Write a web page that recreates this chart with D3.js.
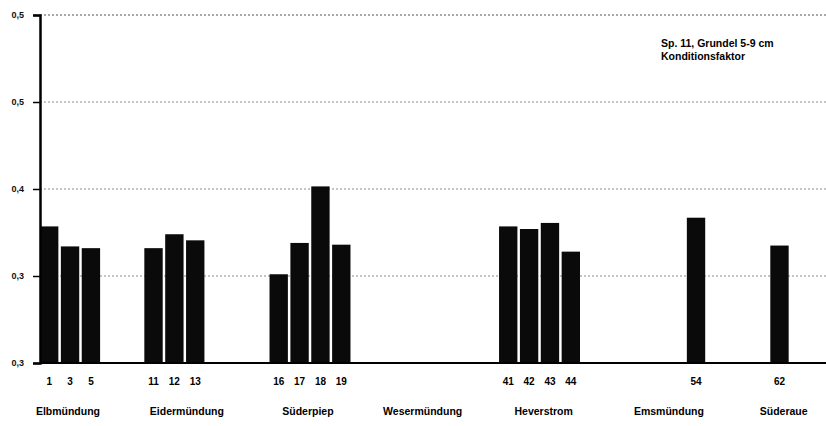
<!DOCTYPE html>
<html lang="en">
<head>
<meta charset="UTF-8">
<title>Konditionsfaktor</title>
<script src="https://d3js.org/d3.v7.min.js"></script>
<style>
  body { margin: 0; background: #fff; }
  text { font-family: "Liberation Sans", Arial, sans-serif; font-weight: bold; }
</style>
</head>
<body>
<div id="chart"></div>
<script>
// stations (slot on the x axis) and condition factor values
const stations = ["1", "3", "5", "11", "12", "13", "16", "17", "18", "19", "41", "42", "43", "44", "54", "62"];
const slots    = [0, 1, 2, 5, 6, 7, 11, 12, 13, 14, 22, 23, 24, 25, 31, 35];
const values   = [0.357, 0.334, 0.332, 0.332, 0.348, 0.341, 0.302, 0.338, 0.403, 0.336, 0.357, 0.354, 0.361, 0.328, 0.367, 0.335];

// areas and the slot their label sits under
const areas     = ["Elbmündung", "Eidermündung", "Süderpiep", "Wesermündung", "Heverstrom", "Emsmündung", "Süderaue"];
const areaSlots = [0.9, 6.6, 12.4, 17.9, 23.7, 29.7, 35.2];

const yTicks = [0.2, 0.3, 0.4, 0.5, 0.6];
const yTickLabels = ["0,3", "0,3", "0,4", "0,5", "0,5"];

const titleLines = ["Sp. 11, Grundel 5-9 cm", "Konditionsfaktor"];

const width = 826, height = 426;
const margin = { top: 15, right: 0, bottom: 63, left: 40 };

const svg = d3.select("#chart").append("svg")
    .attr("width", width)
    .attr("height", height);

const nSlots = 38;
const x = d3.scaleBand()
    .domain(d3.range(nSlots))
    .range([margin.left, margin.left + nSlots * 20.8])
    .paddingInner(0.12)
    .paddingOuter(0);

const y = d3.scaleLinear()
    .domain([0.2, 0.6])
    .range([height - margin.bottom, margin.top]);

// gridlines
svg.append("g")
    .selectAll("line")
    .data(yTicks.slice(1))
    .join("line")
    .attr("x1", margin.left)
    .attr("x2", width)
    .attr("y1", d => y(d))
    .attr("y2", d => y(d))
    .attr("stroke", d => d === 0.6 ? "#555" : "#8a8a8a")
    .attr("stroke-width", 1)
    .attr("stroke-dasharray", "2,2");

// bars
svg.append("g")
    .selectAll("rect")
    .data(values)
    .join("rect")
    .attr("x", (d, i) => x(slots[i]))
    .attr("width", x.bandwidth())
    .attr("y", d => y(d))
    .attr("height", d => y(0.2) - y(d))
    .attr("fill", "#0a0a0a");

// y axis
const yAxis = d3.axisLeft(y)
    .tickValues(yTicks)
    .tickFormat((d, i) => yTickLabels[i])
    .tickSize(7)
    .tickPadding(9);

const ya = svg.append("g")
    .attr("transform", `translate(${margin.left},0)`)
    .call(yAxis);
ya.select(".domain").attr("stroke", "#000").attr("stroke-width", 2.5);
ya.selectAll(".tick line").attr("stroke", "#000").attr("stroke-width", 1.5);
ya.selectAll(".tick text")
    .attr("font-size", 9)
    .attr("fill", "#111")
    .attr("font-family", "Liberation Sans, Arial, sans-serif")
    .attr("font-weight", "bold");

// baseline
svg.append("line")
    .attr("x1", margin.left)
    .attr("x2", width)
    .attr("y1", y(0.2))
    .attr("y2", y(0.2))
    .attr("stroke", "#000")
    .attr("stroke-width", 2);

// station numbers
svg.append("g")
    .selectAll("text")
    .data(stations)
    .join("text")
    .attr("x", (d, i) => x(slots[i]) + x.bandwidth() / 2)
    .attr("y", 385)
    .attr("text-anchor", "middle")
    .attr("font-size", 10)
    .attr("fill", "#000")
    .text(d => d);

// area names
const step = x.step();
svg.append("g")
    .selectAll("text")
    .data(areas)
    .join("text")
    .attr("x", (d, i) => x(0) + areaSlots[i] * step + x.bandwidth() / 2)
    .attr("y", 415)
    .attr("text-anchor", "middle")
    .attr("font-size", 10.5)
    .attr("fill", "#000")
    .text(d => d);

// title box
svg.append("g")
    .selectAll("text")
    .data(titleLines)
    .join("text")
    .attr("x", 661)
    .attr("y", (d, i) => 47 + i * 13)
    .attr("font-size", 10.5)
    .attr("fill", "#000")
    .text(d => d);
</script>
</body>
</html>
